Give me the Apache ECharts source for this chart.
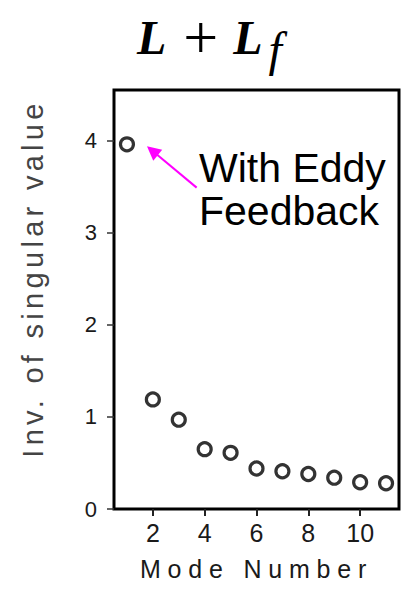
<!DOCTYPE html>
<html>
<head>
<meta charset="utf-8">
<script src="https://cdn.jsdelivr.net/npm/echarts@6/dist/echarts.min.js"></script>
<style>
  html, body { margin: 0; padding: 0; background: #fff; }
  #chart { width: 402px; height: 589px; }
</style>
</head>
<body>
<div id="chart"></div>
<script>
// Inverse singular values of the leading modes
const modes = [1, 2, 3, 4, 5, 6, 7, 8, 9, 10, 11];
const invSingular = [3.96, 1.19, 0.97, 0.65, 0.61, 0.44, 0.41, 0.38, 0.34, 0.29, 0.28];

// Axis ticks and names
const xTicks = [2, 4, 6, 8, 10];
const yTicks = [0, 1, 2, 3, 4];
const xName = 'Mode Number';
const yName = 'Inv. of singular value';

// Annotation: text and arrow (data coordinates) pointing at mode 1
const noteText = 'With Eddy\nFeedback';
const arrowTail = [3.69, 3.49];
const arrowHead = [1.98, 3.89];

const chart = echarts.init(document.getElementById('chart'), null, { renderer: 'svg' });

const sans = '"Liberation Sans", Arial, Helvetica, sans-serif';
const serif = '"Liberation Serif", "Times New Roman", serif';

chart.setOption({
  animation: false,
  backgroundColor: '#fff',
  title: {
    text: '{v|L}{op|+}{v|L}{s|f}',
    left: 132,
    top: 1,
    textStyle: {
      fontWeight: 'normal',
      rich: {
        v: { fontFamily: serif, fontStyle: 'italic', fontWeight: 'bold', fontSize: 48, color: '#000',
             verticalAlign: 'bottom', padding: [0, 0, 12, 0] },
        op: { fontFamily: serif, fontWeight: 'normal', fontSize: 62, color: '#000',
              verticalAlign: 'bottom', padding: [0, 15, 5, 17] },
        s: { fontFamily: serif, fontStyle: 'italic', fontWeight: 'normal', fontSize: 48, color: '#000',
             verticalAlign: 'bottom', padding: [0, 0, 0, 6] }
      }
    }
  },
  grid: {
    left: 114, right: 3, top: 90, bottom: 80,
    show: true, borderColor: '#000', borderWidth: 3, backgroundColor: 'transparent'
  },
  xAxis: {
    type: 'value',
    min: 0.5, max: 11.5,
    name: xName,
    nameLocation: 'middle',
    nameGap: 47,
    nameTextStyle: { fontFamily: sans, fontSize: 25, color: '#1a1a1a' },
    axisLine: { show: false },
    splitLine: { show: false },
    axisTick: { show: true, inside: false, length: 7, customValues: xTicks,
                lineStyle: { color: '#222', width: 2 } },
    axisLabel: { customValues: xTicks, margin: 11, fontFamily: sans, fontSize: 25, color: '#1a1a1a' }
  },
  yAxis: {
    type: 'value',
    min: 0, max: 4.55,
    name: yName,
    nameLocation: 'middle',
    nameGap: 67,
    nameTextStyle: { fontFamily: sans, fontSize: 29, color: '#444', padding: [0, 0, 0, 42] },
    axisLine: { show: false },
    splitLine: { show: false },
    axisTick: { show: true, inside: false, length: 7, customValues: yTicks,
                lineStyle: { color: '#333', width: 1.5 } },
    axisLabel: { customValues: yTicks, margin: 17, fontFamily: sans, fontSize: 22, color: '#1a1a1a' }
  },
  graphic: [{
    type: 'text',
    left: 199,
    top: 146,
    style: {
      text: noteText,
      font: '41px ' + sans,
      lineHeight: 43,
      fill: '#000',
      textAlign: 'left'
    }
  }],
  series: [{
    type: 'scatter',
    data: modes.map((m, i) => [m, invSingular[i]]),
    symbol: 'circle',
    symbolSize: 13,
    itemStyle: { color: '#fff', borderColor: '#000', borderWidth: 3.2 },
    markLine: {
      silent: true,
      symbol: ['none', 'triangle'],
      symbolSize: 14,
      label: { show: false },
      lineStyle: { color: '#ff00ff', width: 2, type: 'solid' },
      data: [[{ coord: arrowTail }, { coord: arrowHead }]]
    }
  }]
});

// Widen the tracking of the axis names
function spaceOutNames() {
  chart.getDom().querySelectorAll('text').forEach(function (t) {
    const s = t.textContent;
    if (s === xName) t.style.letterSpacing = '6.8px';
    else if (s === yName) t.style.letterSpacing = '4.3px';
  });
}
chart.on('finished', spaceOutNames);
spaceOutNames();
</script>
</body>
</html>
